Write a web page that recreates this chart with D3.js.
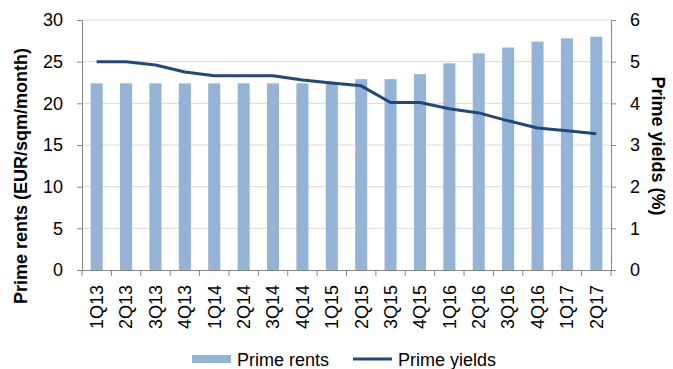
<!DOCTYPE html>
<html><head><meta charset="utf-8">
<script src="https://cdn.jsdelivr.net/npm/d3@7"></script>
<style>
html,body{margin:0;padding:0;background:#fff;}
svg{display:block;font-family:"Liberation Sans",Arial,sans-serif;}
</style></head>
<body>
<svg id="c" width="673" height="369"></svg>
<script>
const categories = ["1Q13","2Q13","3Q13","4Q13","1Q14","2Q14","3Q14","4Q14","1Q15","2Q15","3Q15","4Q15","1Q16","2Q16","3Q16","4Q16","1Q17","2Q17"];
const primeRents = [22.4,22.4,22.4,22.4,22.4,22.4,22.4,22.4,22.4,22.9,22.9,23.5,24.8,26.0,26.7,27.4,27.8,28.0];
const primeYields = [5.0,5.0,4.92,4.75,4.66,4.66,4.66,4.56,4.49,4.42,4.02,4.02,3.87,3.77,3.58,3.41,3.34,3.27];
const leftTicks = [0,5,10,15,20,25,30];
const rightTicks = [0,1,2,3,4,5,6];

const svg = d3.select("#c");
const L = 82, R = 611, T = 20, B = 270;
const x = d3.scaleBand().domain(categories).range([L, R]).padding(0);
const yL = d3.scaleLinear().domain([0,30]).range([B, T]);
const yR = d3.scaleLinear().domain([0,6]).range([B, T]);
const fs = 18;

// gridlines
svg.append("g").selectAll("line").data(leftTicks.filter(d=>d>0)).join("line")
  .attr("x1", L).attr("x2", R).attr("y1", d=>yL(d)).attr("y2", d=>yL(d))
  .attr("stroke", "#d9d9d9").attr("stroke-width", 1);

// bars
const bw = x.bandwidth()*0.41;
svg.append("g").selectAll("rect").data(primeRents).join("rect")
  .attr("x", (d,i)=>x(categories[i]) + x.bandwidth()/2 - bw/2)
  .attr("width", bw)
  .attr("y", d=>yL(d))
  .attr("height", d=>B - yL(d))
  .attr("fill", "#95b3d7");

// line
const line = d3.line().x((d,i)=>x(categories[i]) + x.bandwidth()/2).y(d=>yR(d));
svg.append("path").datum(primeYields).attr("d", line)
  .attr("fill","none").attr("stroke","#1f497d").attr("stroke-width",3).attr("stroke-linejoin","round");

// axes
const axisColor = "#868686";
const gL = svg.append("g").attr("transform",`translate(${L},0)`)
  .call(d3.axisLeft(yL).tickValues(leftTicks).tickFormat(d3.format("d")).tickSize(5).tickPadding(14));
const gR = svg.append("g").attr("transform",`translate(${R},0)`)
  .call(d3.axisRight(yR).tickValues(rightTicks).tickFormat(d3.format("d")).tickSize(5).tickPadding(14));
const gB = svg.append("g").attr("transform",`translate(0,${B})`)
  .call(d3.axisBottom(x).tickSize(0).tickPadding(0));
[gL,gR,gB].forEach(g=>{
  g.select(".domain").attr("stroke",axisColor);
  g.selectAll(".tick line").attr("stroke",axisColor);
  g.selectAll("text").attr("font-size",fs).attr("fill","#000").attr("font-family","Liberation Sans, Arial, sans-serif");
});
gB.select(".domain").attr("d",`M${L},0.5H${R}`);
gB.selectAll(".tick text")
  .attr("transform","rotate(-90)")
  .attr("text-anchor","end")
  .attr("x",-15).attr("y",0).attr("dy","0.35em");
// x ticks at band boundaries
const bounds = categories.map(c=>x(c)).concat([R]);
svg.append("g").selectAll("line").data(bounds).join("line")
  .attr("x1",d=>d).attr("x2",d=>d).attr("y1",B).attr("y2",B+6)
  .attr("stroke",axisColor);

// axis titles
svg.append("text").attr("transform",`translate(27,176) rotate(-90)`)
  .attr("text-anchor","middle").attr("font-weight","bold").attr("font-size",fs)
  .text("Prime rents (EUR/sqm/month)");
svg.append("text").attr("transform",`translate(652,146) rotate(90)`)
  .attr("text-anchor","middle").attr("font-weight","bold").attr("font-size",fs)
  .text("Prime yields (%)");

// legend
const lg = svg.append("g");
lg.append("rect").attr("x",192).attr("y",355).attr("width",39).attr("height",8).attr("fill","#95b3d7");
lg.append("text").attr("x",237).attr("y",366).attr("font-size",fs).text("Prime rents");
lg.append("line").attr("x1",353).attr("x2",392).attr("y1",359).attr("y2",359).attr("stroke","#1f497d").attr("stroke-width",3);
lg.append("text").attr("x",398).attr("y",366).attr("font-size",fs).text("Prime yields");
</script>
</body></html>
